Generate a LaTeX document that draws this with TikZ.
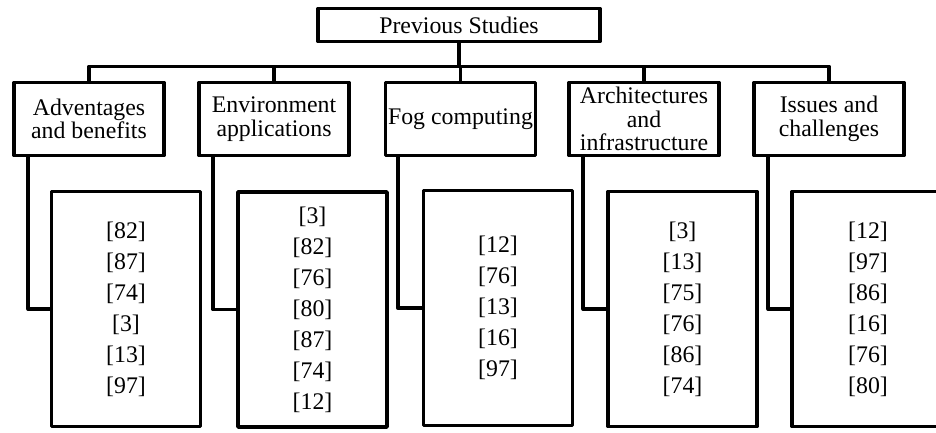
\documentclass[tikz,border=0pt]{standalone}
\usepackage{fontspec}
\setmainfont{Liberation Serif}
\begin{document}
\begin{tikzpicture}[x=1pt,y=-1pt,
  box/.style={draw=black,line width=3.6pt,fill=white,rectangle,inner sep=0pt,align=center,line join=round},
  topbox/.style={box,minimum width=282pt,minimum height=33pt,font=\fontsize{23.8}{23}\selectfont},
  catbox/.style={box,minimum width=150pt,minimum height=73pt,font=\fontsize{23.8}{23.5}\selectfont},
  refbox/.style={box,minimum width=149pt,minimum height=235pt,font=\fontsize{23.8}{31}\selectfont},
  link/.style={draw=black,line width=3.6pt,line join=round}]
\useasboundingbox (0,0) rectangle (936,432);
% top
\node[topbox] (top) at (459,25) {Previous Studies};
% categories
\node[catbox] (b1) at (89,119) {Adventages\\and benefits};
\node[catbox] (b2) at (274,119) {Environment\\applications};
\node[catbox] (b3) at (460.5,119) {Fog computing};
\node[catbox] (b4) at (644,119) {Architectures\\and\\infrastructure};
\node[catbox] (b5) at (829,119) {Issues and\\challenges};
% reference boxes
\node[refbox] (c1) at (126,309) {[82]\\[0pt][87]\\[0pt][74]\\[0pt][3]\\[0pt][13]\\[0pt][97]};
\node[refbox] (c2) at (312.5,309.5) {[3]\\[0pt][82]\\[0pt][76]\\[0pt][80]\\[0pt][87]\\[0pt][74]\\[0pt][12]};
\node[refbox] (c3) at (498,308) {[12]\\[0pt][76]\\[0pt][13]\\[0pt][16]\\[0pt][97]};
\node[refbox] (c4) at (682.5,309) {[3]\\[0pt][13]\\[0pt][75]\\[0pt][76]\\[0pt][86]\\[0pt][74]};
\node[refbox,minimum width=160pt] (c5) at (872,309) {};
\node[font=\fontsize{23.8}{31}\selectfont,align=center,inner sep=0pt] (t5) at (868,309) {[12]\\[0pt][97]\\[0pt][86]\\[0pt][16]\\[0pt][76]\\[0pt][80]};
% tree connectors
\foreach \b in {b1,b2,b3,b4,b5}{
  \path[link] (top.south) -- ++(0,23) -| (\b.north);
}
\path[link] ([xshift=16pt]b1.south west) |- (c1.west);
\path[link] ([xshift=16pt]b2.south west) |- (c2.west);
\path[link] ([xshift=14pt]b3.south west) |- (c3.west);
\path[link] ([xshift=16pt]b4.south west) |- (c4.west);
\path[link] ([xshift=16pt]b5.south west) |- (c5.west);
\end{tikzpicture}
\end{document}
